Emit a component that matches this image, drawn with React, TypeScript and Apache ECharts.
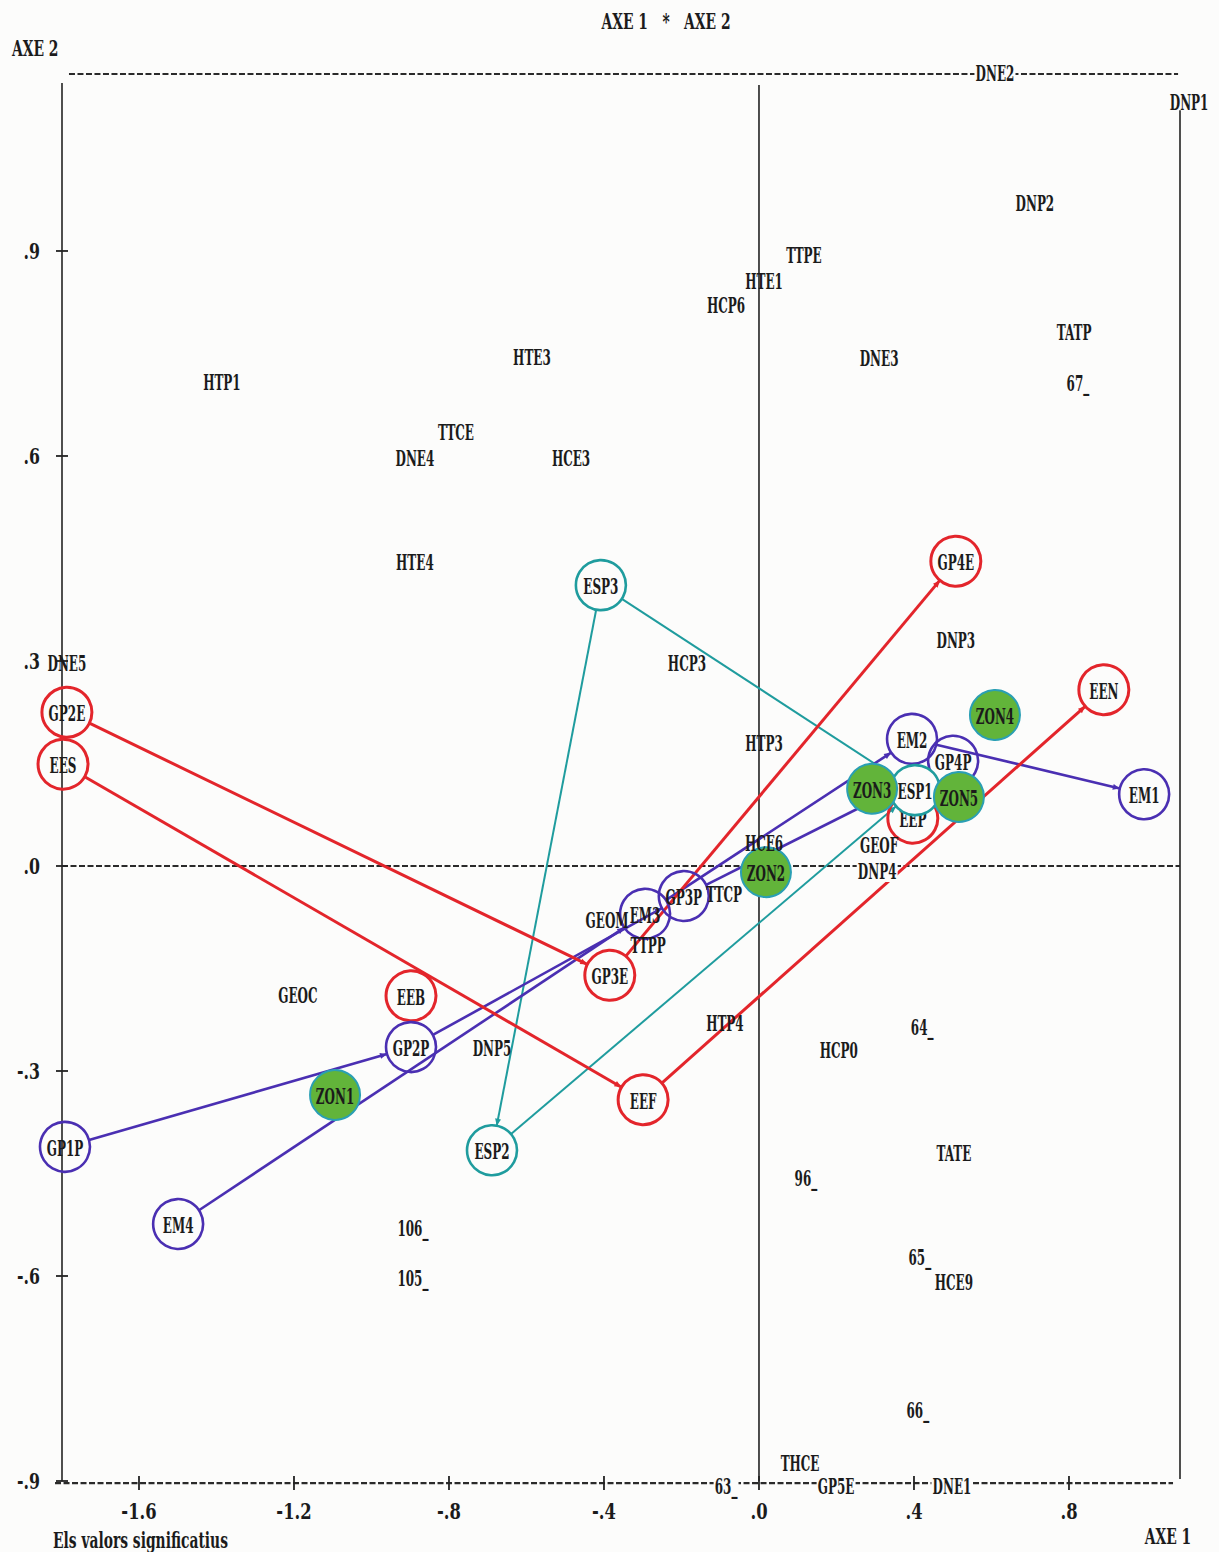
import React, { useEffect, useRef } from "react";
import * as echarts from "echarts";

// ---- axis extents (data units) ----
const X_MIN = -1.7987;
const X_MAX = 1.0865;
const Y_MIN = -0.9;
const Y_MAX = 1.159;

// ---- tick values / labels ----
const xTickValues = [-1.6, -1.2, -0.8, -0.4, 0, 0.4, 0.8];
const xTickLabels = ["-1.6", "-1.2", "-.8", "-.4", ".0", ".4", ".8"];
const yTickValues = [0.9, 0.6, 0.3, 0, -0.3, -0.6, -0.9];
const yTickLabels = [".9", ".6", ".3", ".0", "-.3", "-.6", "-.9"];

// ---- plain (uncircled) modalities ----
const plainNames = [
  "DNE2", "DNP1", "DNP2", "TTPE", "HTE1", "HCP6", "TATP", "DNE3", "67_", "HTE3",
  "HTP1", "TTCE", "DNE4", "HCE3", "HTE4", "DNP3", "HCP3", "DNE5", "HTP3", "HCE6",
  "GEOF", "DNP4", "TTCP", "GEOM", "TTPP", "GEOC", "DNP5", "HTP4", "64_", "HCP0",
  "TATE", "96_", "106_", "65_", "HCE9", "105_", "66_", "THCE", "63_", "GP5E", "DNE1",
];
const plainX = [
  0.609, 1.11, 0.712, 0.116, 0.013, -0.085, 0.813, 0.31, 0.823, -0.586,
  -1.386, -0.782, -0.888, -0.485, -0.888, 0.508, -0.186, -1.786, 0.013, 0.013,
  0.31, 0.305, -0.09, -0.392, -0.286, -1.19, -0.689, -0.088, 0.421, 0.206,
  0.503, 0.121, -0.893, 0.415, 0.503, -0.893, 0.41, 0.106, -0.085, 0.199, 0.498,
];
const plainY = [
  1.161, 1.118, 0.97, 0.894, 0.856, 0.821, 0.782, 0.743, 0.707, 0.745,
  0.708, 0.635, 0.597, 0.597, 0.445, 0.331, 0.297, 0.297, 0.18, 0.034,
  0.031, -0.007, -0.041, -0.079, -0.116, -0.189, -0.266, -0.23, -0.236, -0.269,
  -0.42, -0.457, -0.53, -0.572, -0.609, -0.603, -0.796, -0.874, -0.907, -0.907, -0.907,
];
const onLineLabels = ["DNE2", "DNP4", "63_", "GP5E", "DNE1"];

// ---- circled modalities ----
const redNames = ["GP2E", "EES", "EEB", "GP3E", "EEF", "GP4E", "EEN", "EEP"];
const redX = [-1.786, -1.796, -0.898, -0.385, -0.299, 0.508, 0.89, 0.397];
const redY = [0.225, 0.149, -0.19, -0.16, -0.342, 0.446, 0.258, 0.07];

const purpleNames = ["GP1P", "GP2P", "EM4", "EM3", "GP3P", "EM2", "GP4P", "EM1"];
const purpleX = [-1.791, -0.898, -1.499, -0.294, -0.194, 0.395, 0.501, 0.994];
const purpleY = [-0.411, -0.265, -0.524, -0.07, -0.044, 0.186, 0.154, 0.105];

const tealNames = ["ESP3", "ESP2", "ESP1"];
const tealX = [-0.408, -0.689, 0.403];
const tealY = [0.411, -0.416, 0.111];

const greenNames = ["ZON1", "ZON2", "ZON3", "ZON4", "ZON5"];
const greenX = [-1.094, 0.018, 0.292, 0.609, 0.516];
const greenY = [-0.335, -0.009, 0.113, 0.221, 0.101];

// ---- connections ----
const redLinks = [["GP2E", "GP3E"], ["GP3E", "GP4E"], ["EES", "EEF"], ["EEF", "EEN"]];
const purpleLinks = [["GP1P", "GP2P"], ["GP2P", "GP3P"], ["GP3P", "GP4P"], ["EM4", "EM3"], ["EM3", "EM2"], ["EM2", "EM1"]];
const tealLinks = [["ESP3", "ESP2"], ["ESP2", "ESP1"], ["ESP3", "ESP1"]];

// ---- styling ----
const FONT = '"DejaVu Serif", "Liberation Serif", serif';
const FS = 21;
const SX = 0.57;
const SY = 1.08;
const INK = "#1b1b1b";
const BG = "#fcfcfb";
const RED = "#e3252b";
const PURPLE = "#4a2fb2";
const TEAL = "#1f9c9e";
const GREEN = "#62b43a";
const GREEN_EDGE = "#2a9fb4";
const R = 25;
const NB = "\u00A0";

const textEl = (x: number, y: number, text: string, extra: any = {}, sx: number = SX) => ({
  type: "text",
  x,
  y,
  scaleX: sx,
  scaleY: SY,
  style: {
    text,
    fill: INK,
    fontFamily: FONT,
    fontSize: FS,
    fontWeight: "bold",
    align: "center",
    textAlign: "center",
    verticalAlign: "middle",
    textVerticalAlign: "middle",
    ...extra,
  },
});

function lookup(name: string): [number, number] {
  const groups: [string[], number[], number[]][] = [
    [redNames, redX, redY],
    [purpleNames, purpleX, purpleY],
    [tealNames, tealX, tealY],
    [greenNames, greenX, greenY],
  ];
  for (const [n, xs, ys] of groups) {
    const i = n.indexOf(name);
    if (i >= 0) return [xs[i], ys[i]];
  }
  return [0, 0];
}

function linkSeries(links: string[][], color: string, width: number) {
  return {
    type: "custom",
    z: 2,
    silent: true,
    data: links.map(([a, b]) => [...lookup(a), ...lookup(b)]),
    renderItem: (params: any, api: any) => {
      const p1 = api.coord([api.value(0), api.value(1)]);
      const p2 = api.coord([api.value(2), api.value(3)]);
      const dx = p2[0] - p1[0];
      const dy = p2[1] - p1[1];
      const len = Math.sqrt(dx * dx + dy * dy) || 1;
      const ux = dx / len;
      const uy = dy / len;
      const sx = p1[0] + ux * R;
      const sy = p1[1] + uy * R;
      const ex = p2[0] - ux * R;
      const ey = p2[1] - uy * R;
      const bx = ex - ux * 7;
      const by = ey - uy * 7;
      return {
        type: "group",
        children: [
          { type: "line", shape: { x1: sx, y1: sy, x2: ex, y2: ey }, style: { stroke: color, lineWidth: width } },
          {
            type: "polygon",
            shape: { points: [[ex, ey], [bx - uy * 3, by + ux * 3], [bx + uy * 3, by - ux * 3]] },
            style: { fill: color },
          },
        ],
      };
    },
  };
}

function nodeSeries(names: string[], xs: number[], ys: number[], stroke: string, fill: (n: string) => string, z: number, lw: number) {
  return {
    type: "custom",
    z,
    silent: true,
    data: xs.map((x, i) => [x, ys[i]]),
    renderItem: (params: any, api: any) => {
      const p = api.coord([api.value(0), api.value(1)]);
      const name = names[params.dataIndex];
      return {
        type: "group",
        children: [
          { type: "circle", shape: { cx: p[0], cy: p[1], r: R }, style: { fill: fill(name), stroke, lineWidth: lw } },
          textEl(p[0], p[1] + 1, name),
        ],
      };
    },
  };
}

export default function App() {
  const ref = useRef<HTMLDivElement>(null);

  useEffect(() => {
    if (!ref.current) return;
    const chart = echarts.init(ref.current, undefined, { renderer: "svg" });

    const frameSegs = [
      [X_MIN + 0.018, Y_MAX, X_MAX - 0.005, Y_MAX, 1],
      [X_MIN, Y_MIN, X_MIN, 1.146, 0],
      [0, Y_MIN, 0, 1.143, 0],
      [X_MAX, Y_MIN + 0.003, X_MAX, 1.106, 0],
      [X_MIN, 0, X_MAX, 0, 1],
      [X_MIN - 0.018, Y_MIN - 0.003, X_MAX - 0.018, Y_MIN - 0.003, 1],
    ];

    const option: any = {
      animation: false,
      backgroundColor: BG,
      grid: { left: 62, right: 39, top: 74, bottom: 71 },
      xAxis: { type: "value", min: X_MIN, max: X_MAX, show: false },
      yAxis: { type: "value", min: Y_MIN, max: Y_MAX, show: false },
      series: [
        {
          type: "custom",
          z: 1,
          silent: true,
          data: frameSegs,
          renderItem: (params: any, api: any) => {
            const p1 = api.coord([api.value(0), api.value(1)]);
            const p2 = api.coord([api.value(2), api.value(3)]);
            const dashed = api.value(4) === 1;
            return {
              type: "line",
              shape: { x1: p1[0], y1: p1[1], x2: p2[0], y2: p2[1] },
              style: dashed
                ? { stroke: "#2a2a2a", lineWidth: 2.2, lineDash: [6, 2.5] }
                : { stroke: "#222", lineWidth: 1.6 },
            };
          },
        },
        {
          type: "custom",
          z: 1,
          silent: true,
          data: yTickValues.map((v) => [X_MIN, v]),
          renderItem: (params: any, api: any) => {
            const p = api.coord([api.value(0), api.value(1)]);
            return {
              type: "group",
              children: [
                { type: "line", shape: { x1: p[0] - 6, y1: p[1], x2: p[0] + 6, y2: p[1] }, style: { stroke: "#222", lineWidth: 1.8 } },
                textEl(p[0] - 22, p[1], yTickLabels[params.dataIndex], { align: "right", textAlign: "right" }, 0.75),
              ],
            };
          },
        },
        {
          type: "custom",
          z: 1,
          silent: true,
          data: xTickValues.map((v) => [v, Y_MIN - 0.003]),
          renderItem: (params: any, api: any) => {
            const p = api.coord([api.value(0), api.value(1)]);
            return {
              type: "group",
              children: [
                { type: "line", shape: { x1: p[0], y1: p[1] - 7, x2: p[0], y2: p[1] + 7 }, style: { stroke: "#222", lineWidth: 1.8 } },
                textEl(p[0], p[1] + 28, xTickLabels[params.dataIndex], {}, 0.78),
              ],
            };
          },
        },
        linkSeries(tealLinks, TEAL, 2),
        linkSeries(purpleLinks, PURPLE, 2.6),
        linkSeries(redLinks, RED, 3),
        nodeSeries(redNames, redX, redY, RED, () => "rgba(0,0,0,0)", 3, 3),
        nodeSeries(purpleNames, purpleX, purpleY, PURPLE, () => "rgba(0,0,0,0)", 3, 2.6),
        nodeSeries(tealNames, tealX, tealY, TEAL, (n) => (n === "ESP1" ? BG : "rgba(0,0,0,0)"), 4, 2.6),
        nodeSeries(greenNames, greenX, greenY, GREEN_EDGE, () => GREEN, 5, 2),
        {
          type: "custom",
          z: 6,
          silent: true,
          data: plainX.map((x, i) => [x, plainY[i]]),
          renderItem: (params: any, api: any) => {
            const p = api.coord([api.value(0), api.value(1)]);
            const name = plainNames[params.dataIndex];
            const onLine = onLineLabels.indexOf(name) >= 0;
            return textEl(p[0], p[1], name, onLine ? { backgroundColor: BG, padding: [0, 2] } : {});
          },
        },
      ],
      graphic: [
        textEl(666, 21, `AXE${NB}1${NB}${NB}${NB}*${NB}${NB}${NB}AXE${NB}2`, {}, 0.66),
        textEl(12, 48, `AXE${NB}2`, { align: "left", textAlign: "left" }, 0.66),
        textEl(1168, 1536, `AXE${NB}1`, {}, 0.66),
        textEl(53, 1540, "Els valors significatius", { align: "left", textAlign: "left" }, 0.66),
      ],
    };

    chart.setOption(option);
    return () => chart.dispose();
  }, []);

  return (
    <div
      ref={ref}
      style={{ position: "absolute", left: 0, top: 0, width: 1219, height: 1552, background: BG, overflow: "hidden" }}
    />
  );
}
